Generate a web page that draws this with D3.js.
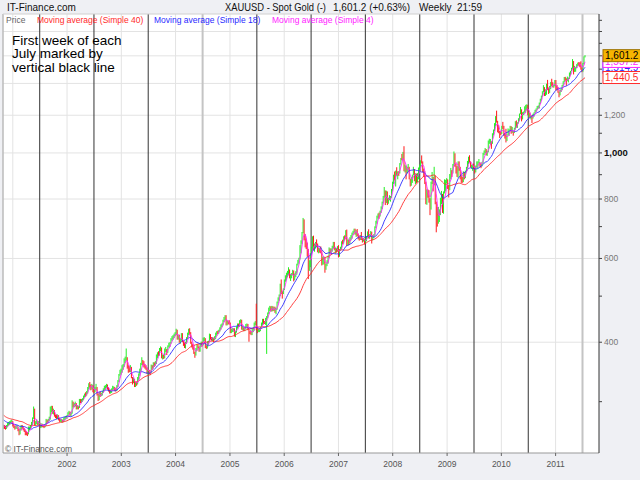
<!DOCTYPE html>
<html><head><meta charset="utf-8">
<script src="https://cdn.jsdelivr.net/npm/d3@7"></script>
<style>body{margin:0;background:#eff0f4;} svg{display:block;font-family:Arial,"Liberation Sans",sans-serif}</style>
</head><body><svg id="c" width="640" height="480"></svg>
<script>
// ---------- DATA (weekly XAUUSD, weeks starting Monday) ----------
const firstWeek = [2000, 0, 31];           // Monday of first (pre-history) week
const preCloses = [312,310,300,296,292,290,286,285,278,281,283,281,276,277,278,274,273,278,287,288,
  290,288,284,282,282,280,276,278,275,275,278,276,273,269,273,270,273,271,264];
const closes = [
  266,265,264,267,269,269,271,272,273,
  268,266,265,265,265,262,257,262,266,265,263,261,258,257,256,263,264,266,268,276,288,269,271,272,270,271,266,268,268,267,266,268,273,272,274,277,288,292,285,287,281,280,278,280,276,273,274,274,272,276,277,278,279,
  284,285,282,284,299,295,296,297,292,292,291,302,300,302,303,308,311,310,313,320,327,325,320,323,317,315,318,321,311,303,312,310,311,314,318,321,323,323,321,318,313,316,319,320,320,318,317,322,331,341,346,348,
  354,356,367,368,371,356,350,348,352,338,330,335,325,328,327,335,341,348,359,366,361,356,355,352,346,347,346,345,357,354,359,358,360,375,378,377,385,388,372,373,372,384,386,380,392,394,398,405,408,410,415,417,
  422,409,411,402,404,415,401,396,390,398,407,417,425,418,399,395,388,380,377,386,393,392,384,394,399,395,406,408,391,390,399,401,414,408,407,407,405,408,415,420,419,423,429,434,435,443,450,453,437,443,441,438,
  420,423,425,426,414,421,430,435,433,443,444,427,428,425,428,435,435,426,421,419,418,424,424,436,439,430,423,424,425,429,437,446,440,439,446,451,460,469,473,466,474,467,473,463,469,484,495,502,529,508,506,517,
  541,549,555,557,565,549,549,555,565,541,556,557,583,590,597,628,645,678,703,661,654,642,612,573,585,614,623,664,632,635,647,642,622,626,625,624,590,598,600,572,582,591,604,628,621,622,634,645,628,628,621,632,
  609,626,631,650,648,666,664,686,643,652,648,662,664,677,684,690,677,684,672,663,659,668,660,655,656,650,656,666,680,666,672,679,658,669,672,699,713,733,744,738,752,767,788,807,834,787,824,785,798,799,808,835,866,
  897,882,913,908,908,907,949,973,972,1000,920,938,914,925,927,883,855,886,898,925,887,901,872,904,928,931,960,955,927,912,865,786,834,833,803,762,864,887,869,896,785,732,723,738,755,800,814,750,822,830,875,880,
  853,840,897,918,913,941,994,942,938,929,952,925,898,885,870,912,887,915,929,958,978,960,935,935,940,935,912,937,953,953,956,948,942,955,997,1005,1008,990,1003,1050,1052,1058,1047,1095,1118,1147,1175,1160,1118,1106,1104,1096,
  1138,1130,1092,1083,1064,1091,1096,1118,1134,1102,1107,1105,1125,1162,1135,1157,1179,1208,1227,1176,1213,1218,1222,1256,1256,1208,1210,1188,1188,1182,1204,1215,1228,1237,1245,1246,1274,1296,1318,1345,1371,1325,1358,1397,1366,1352,1362,1407,1397,1378,1384,1421,
  1368,1360,1342,1340,1348,1360,1388,1410,1428,1421,1418,1428,1430,1473,1485,1505,1556,1491,1492,1512,1536,1541,1540,1539,1500,1483,1542,1591,1601.2];
const highs = [
  268,268,267,268,271,272,273,274,275,
  273,269,267,267,268,266,263,265,268,268,266,264,262,260,259,266,266,268,272,278,293,290,273,275,273,273,271,270,270,269,268,269,276,275,276,279,293,294,294,290,288,282,282,282,281,277,276,276,275,278,279,280,281,
  285,287,286,285,302,300,298,300,298,295,294,304,304,304,305,309,312,314,316,322,328,330,326,327,325,318,322,327,322,312,314,315,313,316,320,324,325,327,326,322,318,318,320,324,323,322,320,325,333,343,350,352,
  358,360,370,373,388,372,358,356,358,355,337,337,332,330,330,338,344,352,362,372,367,365,360,358,354,350,350,349,359,358,363,363,365,377,381,383,389,392,390,377,376,388,391,387,394,399,400,408,412,414,417,420,
  427,425,415,415,407,418,418,403,400,401,410,419,427,428,420,401,397,395,382,389,396,396,392,396,401,401,409,410,408,394,402,403,417,416,410,410,409,412,419,422,423,425,430,436,438,446,452,456,456,445,444,445,
  440,427,428,428,428,423,432,438,438,445,447,446,432,430,431,437,438,437,429,422,422,427,428,440,443,482,432,428,428,431,440,448,448,443,450,454,462,473,477,476,477,476,475,475,472,487,497,504,531,542,512,519,
  542,553,560,565,575,569,557,559,568,566,558,564,585,596,602,640,655,682,730,725,675,660,648,628,595,616,635,668,670,645,650,658,645,632,631,636,624,605,606,602,585,595,608,633,630,630,638,650,650,632,631,637,
  640,628,635,652,657,668,671,688,690,658,657,665,672,680,686,693,693,688,692,677,670,672,682,664,662,660,660,669,684,691,675,685,683,672,675,701,720,738,746,749,756,772,790,812,848,827,833,830,805,815,812,840,870,
  900,914,918,933,915,915,952,976,995,1005,1033,945,940,935,948,935,880,890,900,935,925,906,905,907,932,945,965,988,960,925,915,870,838,838,835,800,870,912,890,935,860,790,770,770,761,805,832,820,830,880,878,885,
  880,845,903,930,920,948,1007,998,950,935,960,960,935,895,890,915,912,918,935,962,982,989,960,945,945,950,934,941,960,960,971,955,949,958,1000,1012,1024,1019,1010,1062,1071,1070,1050,1100,1120,1155,1195,1227,1168,1145,1112,1110,
  1140,1162,1140,1100,1124,1094,1126,1121,1140,1138,1134,1110,1130,1166,1170,1160,1183,1210,1249,1235,1218,1222,1253,1262,1265,1262,1215,1216,1200,1200,1209,1217,1232,1240,1255,1258,1276,1300,1320,1348,1388,1375,1360,1398,1424,1372,1383,1410,1432,1408,1390,1423,
  1423,1390,1376,1346,1359,1366,1390,1415,1444,1445,1435,1447,1440,1476,1488,1510,1575,1560,1524,1515,1537,1548,1552,1550,1558,1513,1545,1596,1605];
const lows = [
  263,263,262,263,265,267,268,269,270,
  266,264,262,263,263,260,255,256,261,263,261,259,255,255,254,256,261,263,265,268,276,267,267,269,268,268,264,264,265,265,264,265,267,270,271,273,275,285,283,282,279,277,276,276,274,272,272,271,271,272,274,276,276,
  278,282,280,280,283,292,292,293,289,289,289,291,298,298,300,302,306,307,309,312,318,321,317,318,314,313,314,317,309,301,302,307,308,309,313,316,318,320,318,315,312,312,313,316,318,316,315,316,322,330,340,342,
  345,350,355,362,366,352,345,346,346,336,326,328,322,322,324,326,333,340,347,358,358,354,352,350,343,342,343,341,345,350,352,355,357,360,370,374,375,383,370,368,369,370,381,376,380,390,391,397,403,405,408,412,
  414,405,405,399,397,403,400,393,389,388,397,406,414,415,397,390,386,378,371,375,384,388,382,382,391,392,394,402,389,387,388,394,400,405,403,402,400,404,406,413,416,417,421,425,430,434,441,445,434,434,436,436,
  418,418,420,421,411,410,419,427,430,431,439,425,424,422,422,426,430,424,401,416,414,414,420,423,434,424,418,420,420,422,427,434,436,437,435,378,449,458,465,464,464,465,465,461,458,468,483,489,500,505,494,505,
  515,536,540,548,553,545,538,545,553,537,540,548,555,580,585,597,615,644,682,655,633,628,605,543,565,575,612,620,625,620,630,635,618,615,617,615,580,582,583,560,568,578,585,601,613,612,620,630,624,614,617,620,
  603,605,622,627,642,645,655,660,637,640,640,645,655,660,672,677,673,666,668,658,654,656,656,648,651,642,648,652,664,661,660,666,645,655,662,670,695,710,728,727,735,748,762,785,805,777,785,777,782,795,790,805,830,
  860,875,850,895,880,895,905,945,965,965,915,910,880,906,912,880,850,853,865,898,872,860,865,868,880,920,915,950,910,890,860,780,778,805,786,740,760,860,830,855,780,681,700,710,716,740,780,748,745,825,835,862,
  840,806,835,880,890,905,938,935,905,890,887,917,880,865,865,868,880,885,910,927,947,955,932,926,917,925,905,910,932,928,950,935,929,937,950,990,1000,988,986,1003,1045,1040,1020,1045,1088,1112,1137,1158,1105,1100,1075,1090,
  1096,1123,1085,1072,1052,1060,1090,1086,1113,1097,1105,1087,1101,1120,1130,1129,1153,1169,1206,1165,1181,1201,1215,1215,1228,1200,1189,1185,1176,1156,1181,1192,1213,1220,1236,1240,1240,1268,1290,1313,1340,1317,1318,1325,1355,1330,1337,1362,1383,1373,1371,1380,
  1352,1358,1338,1309,1321,1343,1355,1384,1408,1418,1384,1415,1407,1430,1455,1486,1500,1462,1480,1481,1507,1522,1526,1514,1496,1478,1482,1537,1588];

const maPeriods = [40, 18, 4];
const maNames = ["Moving average (Simple 40)", "Moving average (Simple 18)", "Moving average (Simple 4)"];
const maColors = ["#ff2a2a", "#2a2aff", "#ff22ff"];
const lastLabels = [1440.5, 1514.9, 1557.2];   // MA40, MA18, MA4 readouts
const lastPrice = 1601.2;
const yearLabels = [2002,2003,2004,2005,2006,2007,2008,2009,2010,2011];
const yearGrid = [2001,2002,2003,2004,2005,2006,2007,2008,2009,2010,2011];
const julyYears = [2001,2002,2003,2004,2005,2006,2007,2008,2009,2010,2011];
const greyJulyYears = [2004, 2011];
const gridPrices = [400,600,800,1000,1200,1400,1600,1800];
const labelPrices = [400,600,800,1000,1200];
const tickPrices = [300,400,500,600,700,800,900,1000,1100,1200,1300,1400,1500,1600,1700,1800,1900];

// ---------- CHART ----------
const svg = d3.select("#c");
const L = 3, R = 599, T = 14, B = 453;
const x = d3.scaleTime().domain([new Date(2000,9,27), new Date(2011,9,20)]).range([L, R]);
const y = d3.scaleLog().domain([234, 1959]).range([B, T]);

const allCloses = preCloses.concat(closes);
const nPre = preCloses.length;
const start = new Date(firstWeek[0], firstWeek[1], firstWeek[2]);
const dateOf = i => d3.timeDay.offset(start, 7 * i);

svg.append("rect").attr("x", L).attr("y", T).attr("width", R - L).attr("height", B - T).attr("fill", "#fff");
svg.append("defs").append("clipPath").attr("id", "clip").append("rect")
  .attr("x", L).attr("y", T).attr("width", R - L).attr("height", B - T);
const plot = svg.append("g").attr("clip-path", "url(#clip)");

// gridlines
plot.selectAll(".hg").data(gridPrices).join("line")
  .attr("x1", L).attr("x2", R).attr("y1", d => y(d)).attr("y2", d => y(d))
  .attr("stroke", "#e3e3e3").attr("stroke-width", 1);
plot.selectAll(".vg").data(yearGrid).join("line")
  .attr("x1", d => x(new Date(d,0,1))).attr("x2", d => x(new Date(d,0,1)))
  .attr("y1", T).attr("y2", B).attr("stroke", "#e3e3e3");
// July markers
plot.selectAll(".jl").data(julyYears).join("line")
  .attr("x1", d => x(new Date(d,6,1))).attr("x2", d => x(new Date(d,6,1)))
  .attr("y1", T).attr("y2", B)
  .attr("stroke", d => greyJulyYears.includes(d) ? "#c4c4c4" : "#333")
  .attr("stroke-width", d => greyJulyYears.includes(d) ? 2 : 1);

// bars
const bars = closes.map((c, i) => {
  const o = allCloses[nPre + i - 1];
  const hi = Math.max(highs[i], o, c), lo = Math.min(lows[i], o, c);
  return {d: dateOf(nPre + i), o, c, hi, lo};
});
plot.selectAll(".bar").data(bars).join("line")
  .attr("x1", d => x(d.d)).attr("x2", d => x(d.d))
  .attr("y1", d => y(d.hi)).attr("y2", d => y(d.lo))
  .attr("stroke", d => d.c >= d.o ? "#22ee22" : "#ff1a1a").attr("stroke-width", 1);

// moving averages
maPeriods.forEach((p, k) => {
  const pts = [];
  for (let i = nPre; i < allCloses.length; i++) {
    pts.push({d: dateOf(i), v: d3.mean(allCloses.slice(i - p + 1, i + 1))});
  }
  plot.append("path").datum(pts)
    .attr("d", d3.line().x(d => x(d.d)).y(d => y(d.v)))
    .attr("fill", "none").attr("stroke", maColors[k]).attr("stroke-width", 0.9);
});

// borders and axes
svg.append("line").attr("x1", L).attr("x2", L).attr("y1", T).attr("y2", B).attr("stroke", "#bbb").attr("stroke-width", 1.5);
svg.append("line").attr("x1", L).attr("x2", R).attr("y1", T).attr("y2", T).attr("stroke", "#d0d0d0");
svg.append("line").attr("x1", L).attr("x2", R).attr("y1", B).attr("y2", B).attr("stroke", "#999");
svg.append("line").attr("x1", R).attr("x2", R).attr("y1", T).attr("y2", B).attr("stroke", "#333");
svg.selectAll(".yt").data(tickPrices).join("line")
  .attr("x1", R).attr("x2", R + 3).attr("y1", d => y(d)).attr("y2", d => y(d)).attr("stroke", "#444");
svg.selectAll(".yl").data(labelPrices).join("text")
  .attr("x", R + 5).attr("y", d => y(d)).attr("dy", "0.35em")
  .attr("font-size", d => d === 1000 ? 9.5 : 8.5)
  .attr("font-weight", d => d === 1000 ? "bold" : "normal")
  .attr("fill", d => d === 1000 ? "#111" : "#777")
  .text(d => d3.format(",")(d));
svg.selectAll(".xt").data(yearLabels).join("line")
  .attr("x1", d => x(new Date(d,0,1))).attr("x2", d => x(new Date(d,0,1)))
  .attr("y1", B).attr("y2", B + 3).attr("stroke", "#666");
svg.selectAll(".xl").data(yearLabels).join("text")
  .attr("x", d => x(new Date(d,0,1))).attr("y", B + 14)
  .attr("text-anchor", "middle").attr("font-size", 8.5).attr("fill", "#555").text(d => d);

// value readout boxes
const boxOrder = [1, 2, 0];
boxOrder.forEach(k => {
  const v = lastLabels[k], cy = y(v);
  svg.append("rect").attr("x", 603).attr("y", cy - 6).attr("width", 40).attr("height", 12)
    .attr("fill", "#fff").attr("stroke", maColors[k]).attr("stroke-width", 1);
  svg.append("text").attr("x", 605).attr("y", cy).attr("dy", "0.36em")
    .attr("font-size", 10).attr("fill", maColors[k]).text(d3.format(",.1f")(v));
});
{
  const cy = y(lastPrice);
  svg.append("rect").attr("x", 603).attr("y", cy - 6).attr("width", 40).attr("height", 12)
    .attr("fill", "#f7b500").attr("stroke", "#9a7000").attr("stroke-width", 1);
  svg.append("text").attr("x", 605).attr("y", cy).attr("dy", "0.36em")
    .attr("font-size", 10).attr("fill", "#000").text(d3.format(",.1f")(lastPrice));
}

// legend
svg.append("text").attr("x", 6).attr("y", 23).attr("font-size", 8.5).attr("fill", "#666").text("Price");
const legX = [37, 154, 272];
maNames.forEach((n, k) => svg.append("text").attr("x", legX[k]).attr("y", 23)
  .attr("font-size", 8.5).attr("fill", maColors[k]).text(n));

// header
svg.append("text").attr("x", 7).attr("y", 11).attr("font-size", 10).attr("fill", "#111").text("IT-Finance.com");
svg.append("text").attr("x", 225).attr("y", 11).attr("font-size", 10).attr("fill", "#111")
  .attr("textLength", 101).attr("lengthAdjust", "spacingAndGlyphs").text("XAUUSD - Spot Gold (-)");
svg.append("text").attr("x", 333).attr("y", 11).attr("font-size", 10).attr("fill", "#111").text("1,601.2 (+0.63%)");
svg.append("text").attr("x", 419).attr("y", 11).attr("font-size", 10).attr("fill", "#111").text("Weekly");
svg.append("text").attr("x", 457).attr("y", 11).attr("font-size", 10).attr("fill", "#111").text("21:59");

// annotation
["First week of each", "July marked by", "vertical black line"].forEach((t, i) =>
  svg.append("text").attr("x", 12).attr("y", 45 + i * 13.4).attr("font-size", 13.5).attr("fill", "#000").text(t));

// footer
svg.append("text").attr("x", 5).attr("y", 452).attr("font-size", 8.5).attr("fill", "#555").text("© IT-Finance.com");

if (closes.length !== 560 || highs.length !== 560 || lows.length !== 560) {
  svg.append("text").attr("x", 200).attr("y", 300).attr("fill", "red").attr("font-size", 14)
    .text("len " + closes.length + " " + highs.length + " " + lows.length);
}
</script></body></html>
